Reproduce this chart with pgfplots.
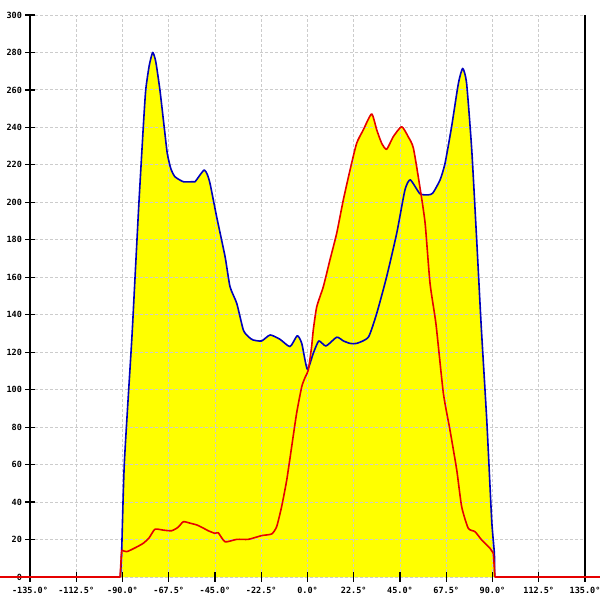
\documentclass[border=0pt]{standalone}
\usepackage{fontspec}
\setmonofont{DejaVu Sans Mono}
\usepackage{pgfplots}
\usepackage{pgfplotstable}
\pgfplotsset{compat=1.18}
\definecolor{cyel}{RGB}{255,255,0}
\definecolor{cblue}{RGB}{0,0,190}
\definecolor{cred}{RGB}{230,0,0}
\pgfplotstableread{
x y
-91 0
-90.4 14
-89.1 61
-85.5 126.5
-83.9 160
-82 200
-79.9 240
-78.7 260
-77 273
-75.3 280
-73.8 275
-71.8 260
-69.7 240
-68.2 226
-66.5 218
-64.5 213.7
-60.4 211
-56 211
-54.7 211
-52.3 214.6
-50.2 217.3
-48.8 215
-47.4 210
-44.2 192.3
-40.1 171
-37.7 155
-34.4 146
-31.2 131.8
-28.5 128
-26.4 126.5
-22.3 126
-18.2 129.2
-13.4 126.9
-8.5 123
-5 128.8
-2.8 124.7
-0.1 110.9
2.8 119.4
5.5 126
9 123.3
14.2 128
17.5 126
20.7 124.7
23.9 124.7
29.6 128
33.7 140.8
38.5 160.3
43.4 183.5
47.4 206.6
50 212
54.7 204.6
58.8 204
61 205
64.5 212
66.9 220.8
70.1 240.4
73.4 263.5
75.5 271.5
77.4 263.5
79.9 228
82.3 180
84.5 134
87.2 83.8
89.6 30.4
90.9 12.6
91 0
}\bluedata
\pgfplotstableread{
x y
-90.4 14.4
-88 13.5
-84 15.5
-79.9 18
-77 21
-74.2 25.5
-70 25
-66.1 24.7
-63 26.5
-60.4 29.5
-57 28.7
-53.9 27.8
-51 26.3
-48.3 24.7
-45 23.3
-43.4 23.6
-40.1 18.8
-34.4 20.1
-28.8 20.1
-22.3 22.1
-17.4 23
-15 26.9
-12.6 37.5
-10.1 51.8
-7.7 69.6
-5.3 87.4
-2.8 101.6
-1 107
0.4 110.5
2 123
2.8 131.8
4.5 144.3
7.7 155
10.9 169.2
14.2 183.5
17.4 201.2
20.7 217.3
23.9 231.5
27.1 238.6
31.2 247.2
33.7 238.6
36.1 231.5
38.5 228.3
41.7 235
45.8 240.4
49 235
51.5 229
54.7 208
57.2 189
59.6 156.8
62.5 135
66.1 98
69.3 78.5
72.6 57.1
75 37.5
78.2 26
81.5 24.2
84.7 19.8
88.8 15.3
90.4 12.6
}\reddata
\pgfplotstableread{
x y
-150 0
-91.2 0
-90.4 14.4
}\redleft
\pgfplotstableread{
x y
90.4 12.6
91.2 0
143 0
}\redright
\begin{document}
\begin{tikzpicture}
\begin{axis}[
  at={(0,0)}, anchor=south west,
  scale only axis,
  x=2.0556pt, y=1.8733pt,
  xmin=-135, xmax=135, ymin=0, ymax=300,
  clip=false,
  set layers,
  axis x line*=bottom,
  axis y line*=box,
  x axis line style={draw=none},
  y axis line style={-, line width=1.2pt},
  ytick pos=left,
  tick align=center,
  major tick length=9pt,
  tick style={black, line width=1.2pt},
  xtick={-135,-112.5,-90,-67.5,-45,-22.5,0,22.5,45,67.5,90,112.5,135},
  xticklabels={-135.0°,-112.5°,-90.0°,-67.5°,-45.0°,-22.5°,0.0°,22.5°,45.0°,67.5°,90.0°,112.5°,135.0°},
  ytick={0,20,...,300},
  /pgf/number format/assume math mode=true,
  tick label style={font=\ttfamily\bfseries\fontsize{8.5}{10}\selectfont},
  xticklabel style={yshift=-2pt},
  grid=major,
  grid style={gray!40, line width=0.9pt, dash pattern=on 3pt off 2pt},
]
\addplot[on layer=axis background, fill=cyel, draw=none, smooth, tension=0.35] table {\bluedata} \closedcycle;
\addplot[on layer=axis background, fill=cyel, draw=none, smooth, tension=0.35] table {\reddata} \closedcycle;
\addplot[cblue, line width=1.6pt, line join=round, smooth, tension=0.35] table {\bluedata};
\addplot[cred, line width=1.6pt, line join=round, smooth, tension=0.35] table {\reddata};
\addplot[cred, line width=1.6pt, line join=round] table {\redleft};
\addplot[cred, line width=1.6pt, line join=round] table {\redright};
\end{axis}
\pgfresetboundingbox
\path[use as bounding box] (-30pt,-23pt) rectangle (570pt,577pt);
\end{tikzpicture}
\end{document}
